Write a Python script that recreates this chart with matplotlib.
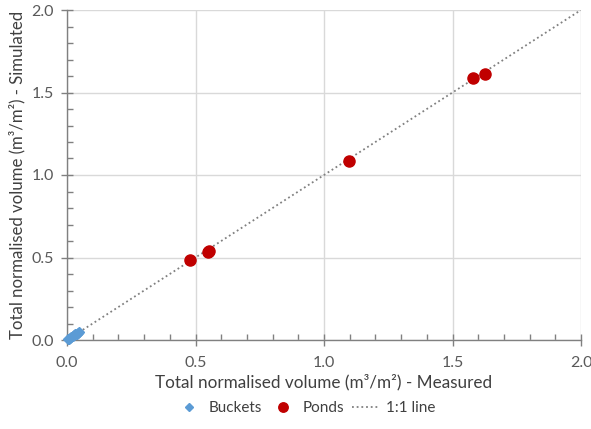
import matplotlib
matplotlib.use("Agg")
import matplotlib.pyplot as plt
from matplotlib.ticker import MultipleLocator, FormatStrFormatter

plt.rcParams['font.family'] = ['Lato', 'DejaVu Sans']

bucket_measured = [0.003, 0.008, 0.012, 0.017, 0.022, 0.027, 0.032, 0.037, 0.042, 0.046]
bucket_simulated = [0.004, 0.009, 0.013, 0.019, 0.024, 0.029, 0.034, 0.039, 0.044, 0.049]
pond_measured = [0.477, 0.547, 0.553, 1.097, 1.581, 1.626]
pond_simulated = [0.483, 0.531, 0.537, 1.087, 1.590, 1.614]
line_x = [0.0, 2.0]
line_y = [0.0, 2.0]

fig = plt.figure(figsize=(5.91, 4.29), dpi=100)
ax = fig.add_axes([67/591, 1-340/429, (581-67)/591, (340-10)/429])

ax.plot(bucket_measured, bucket_simulated, linestyle='none', marker='D', markersize=5,
        color='#5b9bd5', label='Buckets', zorder=3, clip_on=False)
ax.plot(pond_measured, pond_simulated, linestyle='none', marker='o', markersize=8,
        color='#c00000', label='Ponds', zorder=3)
ax.plot(line_x, line_y, linestyle=(0, (1, 1.6)), color='#808080', linewidth=1.3,
        label='1:1 line', zorder=2)

ax.set_xlim(0, 2.0)
ax.set_ylim(0, 2.0)
ax.xaxis.set_major_locator(MultipleLocator(0.5))
ax.yaxis.set_major_locator(MultipleLocator(0.5))
ax.xaxis.set_minor_locator(MultipleLocator(0.1))
ax.yaxis.set_minor_locator(MultipleLocator(0.1))
ax.xaxis.set_major_formatter(FormatStrFormatter('%.1f'))
ax.yaxis.set_major_formatter(FormatStrFormatter('%.1f'))

ax.grid(True, which='major', color='#d9d9d9', linewidth=1)
ax.set_axisbelow(True)
for s in ['top', 'right']:
    ax.spines[s].set_visible(False)
for s in ['left', 'bottom']:
    ax.spines[s].set_color('#808080')
    ax.spines[s].set_linewidth(1)
ax.tick_params(which='major', direction='inout', length=9, width=1, color='#808080',
               labelsize=11.5, labelcolor='#595959')
ax.tick_params(axis='x', which='major', pad=7)
ax.tick_params(axis='y', which='major', pad=5)
ax.tick_params(which='minor', direction='in', length=4, width=1, color='#808080')

ax.set_xlabel('Total normalised volume (m³/m²) - Measured', fontsize=12.3, color='#404040', labelpad=3)
ax.set_ylabel('Total normalised volume (m³/m²) - Simulated', fontsize=12.1, color='#404040', labelpad=4)

leg = fig.legend(loc='center', bbox_to_anchor=(305/591, 1-408/429), ncol=3, frameon=False,
                 fontsize=11, handlelength=1.8, columnspacing=0.5, handletextpad=0.4,
                 labelcolor='#404040', markerscale=0.85)

fig.savefig('out.png', dpi=100)
